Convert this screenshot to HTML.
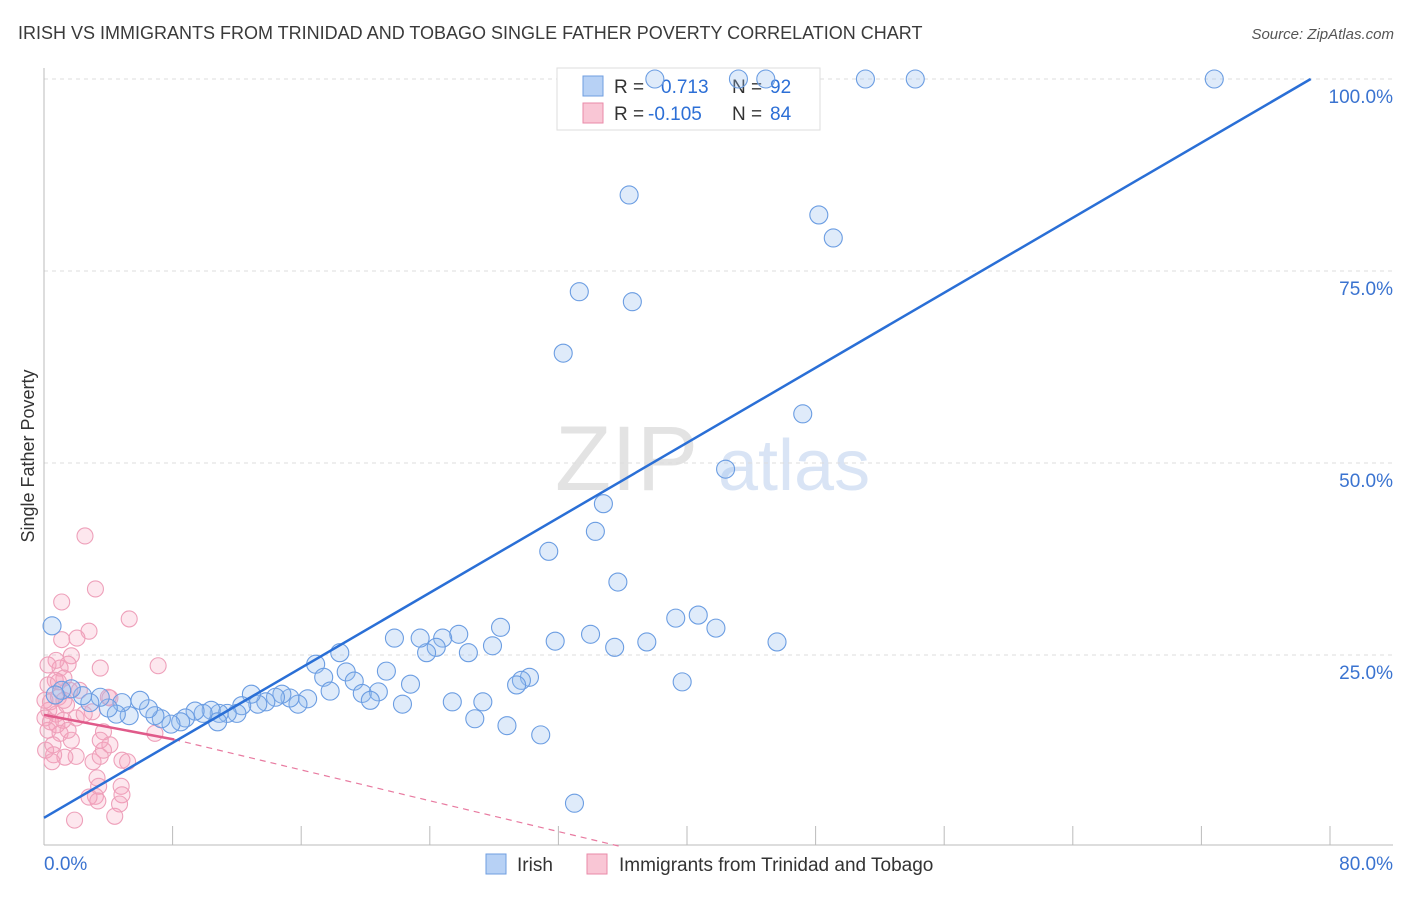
<!DOCTYPE html>
<html><head><meta charset="utf-8"><style>
body{margin:0;background:#fff;font-family:"Liberation Sans",sans-serif;}
svg text{font-family:"Liberation Sans",sans-serif;}
</style></head><body>
<svg id="chart" width="1406" height="892" viewBox="0 0 1406 892">
<text x="18" y="39" font-size="18" fill="#3a3a3a">IRISH VS IMMIGRANTS FROM TRINIDAD AND TOBAGO SINGLE FATHER POVERTY CORRELATION CHART</text>
<text x="1394" y="39" font-size="15" fill="#555" text-anchor="end" font-style="italic">Source: ZipAtlas.com</text>
<text transform="translate(34,456) rotate(-90)" font-size="18" fill="#333" text-anchor="middle">Single Father Poverty</text>
<g><text x="555" y="490" font-size="92" fill="#d8d8d8" font-family="Liberation Serif" opacity="0.7">ZIP</text><text x="718" y="490" font-size="72" fill="#c9daf2" opacity="0.7">atlas</text></g>
<g id="grid"></g><g id="axes"></g>
<g>
<rect x="557" y="68" width="263" height="62" fill="#fff" stroke="#ddd"/>
<rect x="583" y="76" width="20" height="20" fill="#b7d1f5" stroke="#6f9ee0"/>
<text x="614" y="93" font-size="19" fill="#333">R = </text><text x="661" y="93" font-size="19" fill="#2c6fd6">0.713</text>
<text x="732" y="93" font-size="19" fill="#333">N = </text><text x="770" y="93" font-size="19" fill="#2c6fd6">92</text>
<rect x="583" y="103" width="20" height="20" fill="#f9c6d5" stroke="#e98aa8"/>
<text x="614" y="120" font-size="19" fill="#333">R = </text><text x="648" y="120" font-size="19" fill="#2c6fd6">-0.105</text>
<text x="732" y="120" font-size="19" fill="#333">N = </text><text x="770" y="120" font-size="19" fill="#2c6fd6">84</text>
</g>
<g id="pink"></g><g id="blue"></g><g id="lines"></g>
<g>
<rect x="486" y="854" width="20" height="20" fill="#b7d1f5" stroke="#6f9ee0"/>
<text x="517" y="871" font-size="19" fill="#333">Irish</text>
<rect x="587" y="854" width="20" height="20" fill="#f9c6d5" stroke="#e98aa8"/>
<text x="619" y="871" font-size="19" fill="#333">Immigrants from Trinidad and Tobago</text>
</g>
</svg>
<script>
const blueX=[0.5,38,43.2,44.9,51.1,54.2,72.8,36.4,48.2,49.1,33.3,36.6,32.3,47.2,42.4,34.8,34.3,31.4,35.7,39.3,40.7,41.8,45.6,37.5,35.5,34,31.8,28.4,27.9,25.8,24.8,24.4,23.8,23.4,21.8,26.4,18.4,16.9,18.8,17.4,19.3,21.3,22.8,30.2,29.7,29.4,39.7,17.8,20.8,19.8,20.3,22.3,25.4,27.3,26.8,28.8,30.9,33,16.4,15.8,15.3,14.8,14.4,13.8,13.3,12.9,12.3,12,11.4,10.9,10.4,10.8,9.9,9.4,8.8,8.5,7.9,7.3,6.9,6.5,5.97,5.3,4.85,4.5,4,3.5,2.85,2.4,1.7,1.1,0.7];
const blueY=[28.8,100,100,100,100,100,100,84.9,82.3,79.3,72.3,71,64.3,56.4,49.2,44.7,41.1,38.5,34.5,29.8,30.2,28.5,26.7,26.7,26,27.7,26.8,28.6,26.2,27.7,27.2,26,25.3,27.2,27.2,25.3,25.3,23.8,22.8,22.1,21.6,22.9,21.2,22.1,21.7,21.1,21.5,20.3,20.2,20,19.1,18.6,18.9,18.9,16.7,15.8,14.6,5.7,19.3,18.6,19.4,19.9,19.5,18.9,18.6,19.9,18.4,17.4,17.4,17.4,17.8,16.3,17.4,17.7,16.8,16.3,16,16.7,17.1,18,19.1,17.1,18.8,17.3,18.1,19.5,18.8,19.7,20.6,20.4,19.8];
const pinkX=[2.55,1.1,3.2,5.3,2.8,1.1,2.05,7.1,3.5,1.7,1,1.5,1.24,0.7,0.25,1.6,0.9,0.4,0.3,0.75,1.2,0.4,0.25,1.4,2.2,3,2,1,1.7,0.56,3.7,4,3.7,2,1.3,0.6,3.05,3.5,4.85,5.2,4.1,0.8,1.5,3.3,3.4,4.8,3.2,2.8,3.35,4.85,4.7,1.9,4.4,1.24,0.06,0.1,0.5,6.9,3.5,4.1,0.06,2.5,0.9,0.75,0.25];
const pinkY=[40.5,31.9,33.6,29.7,28.1,27,27.2,23.6,23.3,24.9,23.3,23.8,22,21.7,21.1,20.4,19.5,18.9,17.8,17.3,16.5,16.3,15.2,18.5,20.4,17.6,16.8,14.8,13.9,13.3,15,19.5,12.6,11.8,11.7,12,11.1,11.8,11.3,11.1,13.3,15.9,15.2,9,7.9,7.9,6.6,6.5,6,6.8,5.6,3.5,4,19.1,19.1,12.6,11.1,14.8,13.9,19.4,16.8,17.3,21.5,24.3,23.7];
const yTicks=[25,50,75,100];
const yTickLabels=["25.0%","50.0%","75.0%","100.0%"];
const blueLine=[[0,3.8],[78.8,100]];
const pinkLine=[[0,17.2],[8.1,14]];
const pinkDash=[[8.1,14],[36,0]];
const X0=44,X1=1330,Y0=847,Y1=79;
const sx=v=>X0+(X1-X0)*v/80, sy=v=>Y0-(Y0-Y1)*v/100;
const NS="http://www.w3.org/2000/svg";
function mk(p,t,a){const e=document.createElementNS(NS,t);for(const k in a)e.setAttribute(k,a[k]);document.getElementById(p).appendChild(e);return e;}
yTicks.forEach((t,i)=>{
 const l=mk('grid','line',{x1:X0,x2:1393,y1:sy(t),y2:sy(t),stroke:'#ddd','stroke-dasharray':'4,4'});
 
 
 const tx=mk('grid','text',{x:1393,y:sy(t)+24,'font-size':19,fill:'#3a73d0','text-anchor':'end'});
 tx.textContent=yTickLabels[i];
 
 
});
let a=mk('axes','line',{x1:X0,x2:X0,y1:68,y2:845,stroke:'#bbb'});


a=mk('axes','line',{x1:X0,x2:1393,y1:845,y2:845,stroke:'#bbb'});


for(let i=1;i<=10;i++){const t=mk('axes','line',{x1:sx(i*8),x2:sx(i*8),y1:826,y2:845,stroke:'#bbb'});
 
 }
let xl=mk('axes','text',{x:44,y:870,'font-size':19,fill:'#3a73d0'});xl.textContent='0.0%';


xl=mk('axes','text',{x:1393,y:870,'font-size':19,fill:'#3a73d0','text-anchor':'end'});xl.textContent='80.0%';


pinkX.forEach((x,i)=>{const c=mk('pink','circle',{cx:sx(x),cy:sy(pinkY[i]),r:8,fill:'rgba(246,160,188,0.25)',stroke:'#eea0ba','stroke-width':1.1});
 
 });
blueX.forEach((x,i)=>{const c=mk('blue','circle',{cx:sx(x),cy:sy(blueY[i]),r:9,fill:'rgba(150,190,240,0.3)',stroke:'#6b9de2','stroke-width':1.1});
 
 });
let ln=mk('lines','line',{x1:sx(pinkDash[0][0]),y1:sy(pinkDash[0][1]),x2:sx(pinkDash[1][0]),y2:sy(pinkDash[1][1]),stroke:'#e87aa0','stroke-width':1.2,'stroke-dasharray':'6,5'});


ln=mk('lines','line',{x1:sx(pinkLine[0][0]),y1:sy(pinkLine[0][1]),x2:sx(pinkLine[1][0]),y2:sy(pinkLine[1][1]),stroke:'#e05a8a','stroke-width':2.5});


ln=mk('lines','line',{x1:sx(blueLine[0][0]),y1:sy(blueLine[0][1]),x2:sx(blueLine[1][0]),y2:sy(blueLine[1][1]),stroke:'#2a6fd6','stroke-width':2.5});


</script>
</body></html>
